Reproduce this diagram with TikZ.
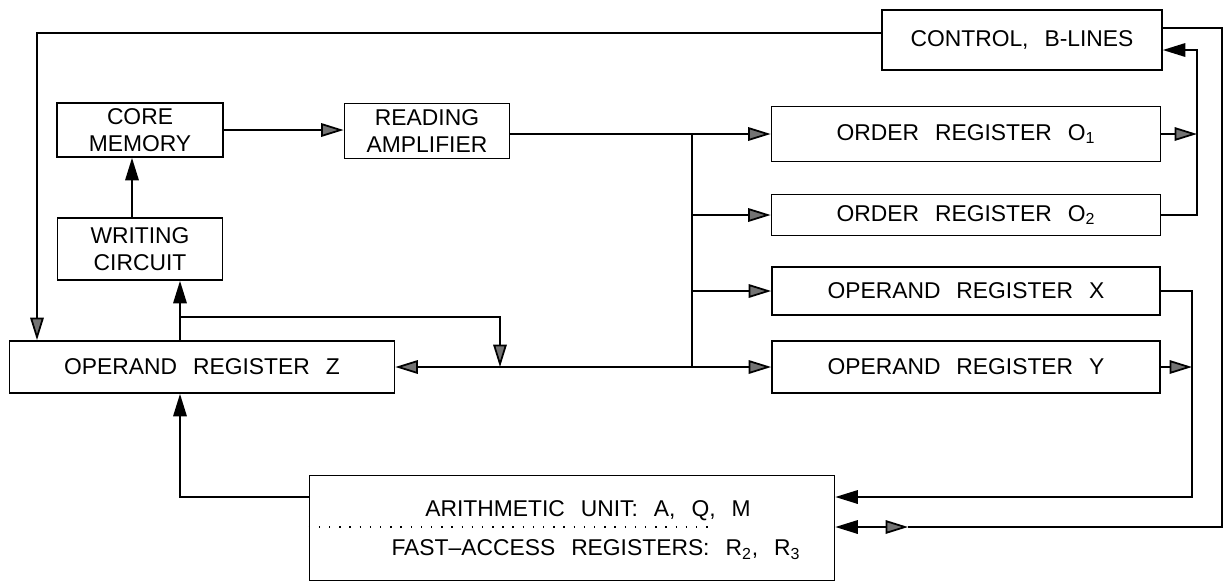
\documentclass[tikz,border=0pt]{standalone}
\usepackage{fontspec}
\setmainfont{Liberation Sans}
\usepackage{tikz}
\usetikzlibrary{positioning,arrows.meta}

\newcommand{\regfont}{\fontsize{13}{15.5}\selectfont\spaceskip=0.7em plus 0.1em\relax}

\begin{document}
\begin{tikzpicture}[
  x=0.02cm, y=-0.02cm,
  line width=1pt,
  every node/.style={font=\regfont},
  blk/.style={draw, line width=1pt, inner sep=2pt, align=center},
  arr/.style={-{Triangle[length=0.45cm,width=0.27cm]}},
  garr/.style={-{Triangle[length=0.45cm,width=0.27cm,fill=black!55]}}
]
\useasboundingbox (0,0) rectangle (1225,583);

% units
\node[blk, minimum width=5.6cm, minimum height=1.2cm] (ctrl) at (1022,40) {CONTROL, B-LINES};
\node[blk, minimum width=3.32cm, minimum height=1.08cm] (core) at (140,130) {CORE\\MEMORY};
\node[blk, minimum width=3.3cm, minimum height=1.1cm] (read) at (427,131) {READING\\AMPLIFIER};
\node[blk, minimum width=3.3cm, minimum height=1.24cm] (wr) at (140,249) {WRITING\\CIRCUIT};
\node[blk, minimum width=7.78cm, minimum height=1.1cm] (o1) at (966,134) {ORDER REGISTER O\textsubscript{1}};
\node[blk, minimum width=7.78cm, minimum height=0.82cm] (o2) at (966,215) {ORDER REGISTER O\textsubscript{2}};
\node[blk, minimum width=7.76cm, minimum height=0.96cm] (opx) at (966,291) {OPERAND REGISTER X};
\node[blk, minimum width=7.76cm, minimum height=1.04cm] (opy) at (966,367) {OPERAND REGISTER Y};
\node[blk, minimum width=7.7cm, minimum height=1.04cm] (z) at (202,367) {OPERAND REGISTER Z};
\node[blk, minimum width=10.5cm, minimum height=2.1cm] (au) at (572,528) {};
\node (au1) at (588,511) {ARITHMETIC UNIT: A, Q, M};
\node (au2) at (596,550) {FAST--ACCESS REGISTERS: R\textsubscript{2}, R\textsubscript{3}};

% helper coordinates
\coordinate (lft) at (37,0);
\coordinate (rgt) at (1222,0);
\coordinate (cr) at (1197,0);
\coordinate (xr) at (1192,0);
\coordinate (bus) at (692,0);
\coordinate (zup) at (180,0);
\coordinate (wup) at (132,0);
\coordinate (br) at (500,317);
\coordinate (ain) at (0,497);
\coordinate (dbl) at (908,527);
\coordinate (dotend) at (715,527);

% control lines
\draw[garr] ([yshift=0.14cm]ctrl.west) -- ([yshift=0.14cm]ctrl.west -| lft) -- (z.north -| lft);
\draw ([yshift=0.24cm]ctrl.east) -- ([yshift=0.24cm]ctrl.east -| rgt) -- (dbl -| rgt) -- (dbl);
\draw[{Triangle[length=0.45cm,width=0.27cm]}-{Triangle[length=0.45cm,width=0.27cm,fill=black!55]}] (dbl -| au.east) -- (dbl);
\draw[arr] (o2.east) -- (o2.east -| cr) -- ([yshift=-0.2cm]ctrl.east -| cr) -- ([yshift=-0.2cm]ctrl.east);
\draw[garr] (o1.east) -- (o1.east -| cr);

% memory
\draw[garr] (core.east) -- (core.east -| read.west);
\draw[arr] (wr.north -| wup) -- (core.south -| wup);
\draw[garr] (read.east |- o1.west) -- (o1.west);

% distribution bus
\draw (bus |- o1.west) -- (bus |- opy.west);
\draw[garr] (bus |- o2.west) -- (o2.west);
\draw[garr] (bus |- opx.west) -- (opx.west);
\draw[garr] (bus |- opy.west) -- (opy.west);
\draw[garr] (bus |- z.east) -- (z.east);

% register Z
\draw[arr] (z.north -| zup) -- (wr.south -| zup);
\draw[garr] (br -| zup) -- (br) -- (br |- z.east);
\draw[arr] (ain -| au.west) -- (ain -| zup) -- (z.south -| zup);

% operands to arithmetic unit
\draw[arr] (opx.east) -- (opx.east -| xr) -- (ain -| xr) -- (ain -| au.east);
\draw[garr] (opy.east) -- (opy.east -| xr);

\draw[line width=0.6pt, dash pattern=on 0.8pt off 5pt] (au.west |- dbl) -- (dotend);
\end{tikzpicture}
\end{document}
